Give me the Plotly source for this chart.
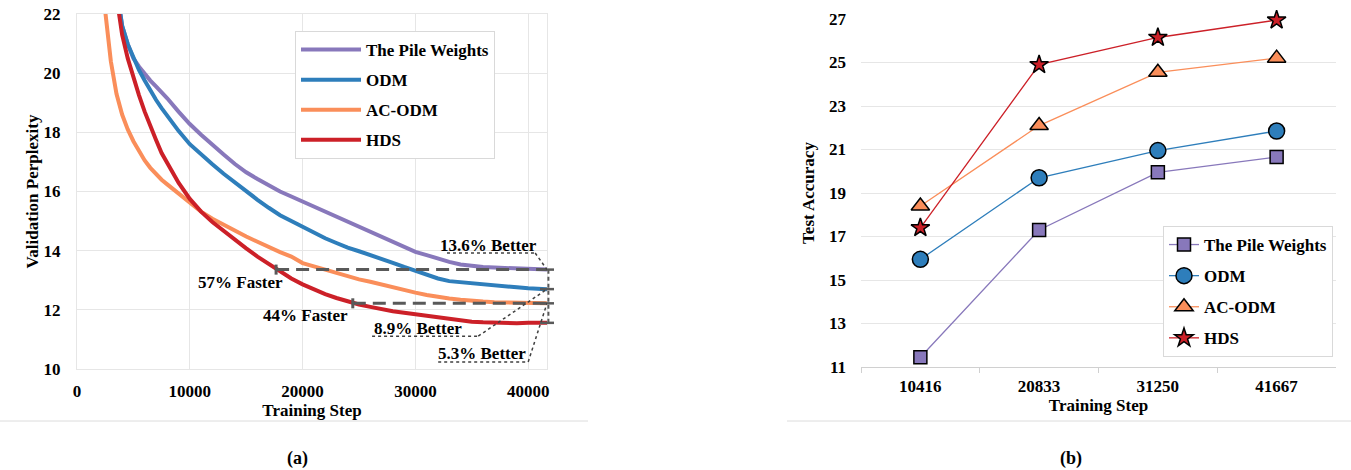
import plotly.graph_objects as go

# ---------------- data: (a) validation perplexity curves ----------------
STEPS = [2000, 2500, 3000, 3500, 4000, 4500, 5000, 5500, 6000, 6500, 7000, 7500, 8000,
         9000, 10000, 11000, 12000, 13000, 14000, 15000, 16000, 17000, 18000, 19000, 20000,
         21000, 22000, 23000, 24000, 25000, 26000, 27000, 28000, 29000, 30000, 31000, 32000,
         33000, 34000, 35000, 36000, 37000, 38000, 39000, 40000, 41000, 41667]

PILE_PPL = [None, None, None, 22.9, 21.6, 20.98, 20.5, 20.22, 19.97, 19.75, 19.55, 19.36, 19.15,
            18.7, 18.28, 17.92, 17.57, 17.25, 16.93, 16.65, 16.42, 16.2, 16.0, 15.83, 15.66,
            15.49, 15.32, 15.15, 14.98, 14.8, 14.63, 14.46, 14.29, 14.12, 13.96, 13.85, 13.72,
            13.62, 13.53, 13.48, 13.45, 13.43, 13.42, 13.4, 13.38, 13.37, 13.36]

ODM_PPL = [None, None, None, 22.9, 21.6, 20.98, 20.5, 20.1, 19.75, 19.4, 19.1, 18.82, 18.55,
           18.05, 17.6, 17.25, 16.92, 16.6, 16.3, 16.0, 15.72, 15.45, 15.2, 15.0, 14.8,
           14.6, 14.42, 14.26, 14.1, 13.98, 13.86, 13.73, 13.59, 13.45, 13.32, 13.19, 13.06,
           12.97, 12.93, 12.89, 12.86, 12.83, 12.79, 12.76, 12.73, 12.71, 12.7]

ACODM_PPL = [24.5, 22.1, 20.4, 19.3, 18.6, 18.1, 17.7, 17.35, 17.05, 16.8, 16.58, 16.4, 16.24,
             15.92, 15.6, 15.32, 15.08, 14.87, 14.67, 14.48, 14.3, 14.12, 13.95, 13.8, 13.58,
             13.47, 13.36, 13.23, 13.12, 13.03, 12.95, 12.85, 12.75, 12.66, 12.58, 12.5, 12.43,
             12.38, 12.34, 12.3, 12.28, 12.26, 12.25, 12.24, 12.23, 12.22, 12.22]

HDS_PPL = [None, None, None, 22.6, 21.3, 20.5, 19.85, 19.25, 18.7, 18.2, 17.75, 17.3, 16.95,
           16.3, 15.75, 15.32, 14.97, 14.66, 14.37, 14.08, 13.8, 13.55, 13.3, 13.06, 12.86,
           12.68, 12.53, 12.4, 12.28, 12.18, 12.1, 12.02, 11.95, 11.9, 11.85, 11.79, 11.73,
           11.68, 11.63, 11.6, 11.58, 11.56, 11.55, 11.55, 11.56, 11.57, 11.56]

# steps at which HDS reaches the final perplexity of The Pile Weights / AC-ODM
FASTER_LABELS = ["57% Faster", "44% Faster"]
FASTER_START = [17650, 24450]

BETTER_LABELS = ["13.6% Better", "8.9% Better", "5.3% Better"]

# ---------------- data: (b) test accuracy ----------------
STEPS_B = ["10416", "20833", "31250", "41667"]
PILE_ACC = [11.45, 17.3, 19.95, 20.65]
ODM_ACC = [15.95, 19.7, 20.95, 21.85]
ACODM_ACC = [18.4, 22.1, 24.55, 25.2]
HDS_ACC = [17.4, 24.9, 26.15, 26.95]

NAMES = ["The Pile Weights", "ODM", "AC-ODM", "HDS"]
COLORS = ["#8878BB", "#2E7EBB", "#FA8E5A", "#CC2028"]
SYMBOLS = ["square", "circle", "triangle-up", "star"]
SIZES = [13, 16, 16, 14]

FONT = "Liberation Serif, Times New Roman, serif"
GRID = "#e6e6e6"
ANN = "#595959"
W, H = 1351, 470


def px(x):
    """screen x pixel -> paper fraction"""
    return x / W


def py(y):
    """screen y pixel -> paper fraction"""
    return 1 - y / H


fig = go.Figure()

# ---------- (a) curves ----------
for name, vals, col in zip(NAMES, [PILE_PPL, ODM_PPL, ACODM_PPL, HDS_PPL], COLORS):
    fig.add_trace(go.Scatter(x=STEPS, y=vals, mode="lines", name=name,
                             line=dict(color=col, width=4),
                             xaxis="x", yaxis="y", legend="legend",
                             legendgroup="a_" + name, hoverinfo="skip"))

last_pile, last_odm, last_ac, last_hds = PILE_PPL[-1], ODM_PPL[-1], ACODM_PPL[-1], HDS_PPL[-1]
faster_levels = [last_pile, last_ac]
x_end = STEPS[-1]

# dashed "faster" lines
for start, lvl in zip(FASTER_START, faster_levels):
    fig.add_trace(go.Scatter(x=[start, x_end], y=[lvl, lvl], mode="lines",
                             line=dict(color=ANN, width=3, dash="13px,7px"),
                             showlegend=False, hoverinfo="skip", xaxis="x", yaxis="y"))
    fig.add_shape(type="line", xref="x", yref="y", x0=start, x1=start,
                  y0=lvl - 0.17, y1=lvl + 0.17, line=dict(color=ANN, width=3))

# vertical bracket at right edge
fig.add_shape(type="line", xref="x domain", yref="y", x0=1.003, x1=1.003,
              y0=last_hds, y1=last_pile, line=dict(color=ANN, width=2, dash="4px,3px"))
for v in [last_pile, last_odm, last_ac, last_hds]:
    fig.add_shape(type="line", xref="x domain", yref="y", x0=1 - 7 / 470, x1=1 + 7 / 470,
                  y0=v, y1=v, line=dict(color=ANN, width=2.5))

annfont = dict(family=FONT, size=17, color="black", weight="bold")

# "faster" labels
FASTER_POS = [(14460, 12.91), (20220, 11.82)]
for txt, (ax_, ay_) in zip(FASTER_LABELS, FASTER_POS):
    fig.add_annotation(x=ax_, y=ay_, xref="x", yref="y", text=txt, showarrow=False,
                       xanchor="center", yanchor="middle", font=annfont)

# "better" labels with dotted leader lines
BETTER_POS = [(36450, 14.16), (30240, 11.38), (35920, 10.51)]
BETTER_LINE = [(32800, 40620, 13.92), (26160, 35570, 11.11), (32020, 40000, 10.24)]
for txt, (ax_, ay_), (ux0, ux1, uy), target in zip(BETTER_LABELS, BETTER_POS, BETTER_LINE,
                                                    [last_pile, last_odm, last_ac]):
    fig.add_annotation(x=ax_, y=ay_, xref="x", yref="y", text=txt, showarrow=False,
                       xanchor="center", yanchor="middle", font=annfont)
    fig.add_shape(type="line", xref="x", yref="y", x0=ux0, x1=ux1, y0=uy, y1=uy,
                  line=dict(color="#404040", width=1.5, dash="dot"))
    fig.add_shape(type="line", xref="x", yref="y", x0=ux1, x1=x_end, y0=uy, y1=target,
                  line=dict(color="#404040", width=1.5, dash="dot"))

# ---------- (b) accuracy ----------
for name, vals, col, sym, sz in zip(NAMES, [PILE_ACC, ODM_ACC, ACODM_ACC, HDS_ACC],
                                    COLORS, SYMBOLS, SIZES):
    fig.add_trace(go.Scatter(x=STEPS_B, y=vals, mode="lines+markers", name=name,
                             line=dict(color=col, width=1.3),
                             marker=dict(symbol=sym, size=sz, color=col,
                                         line=dict(color="black", width=1.5)),
                             xaxis="x2", yaxis="y2", legend="legend2",
                             legendgroup="b_" + name, cliponaxis=False, hoverinfo="skip"))

# captions and separator lines
capfont = dict(family=FONT, size=18, color="black", weight="bold")
fig.add_annotation(x=px(297), y=py(458), xref="paper", yref="paper", text="(a)",
                   showarrow=False, xanchor="center", yanchor="middle", font=capfont)
fig.add_annotation(x=px(1071), y=py(458), xref="paper", yref="paper", text="(b)",
                   showarrow=False, xanchor="center", yanchor="middle", font=capfont)
fig.add_shape(type="line", xref="paper", yref="paper", x0=px(0), x1=px(588),
              y0=py(421), y1=py(421), line=dict(color="#dcdcdc", width=1))
fig.add_shape(type="line", xref="paper", yref="paper", x0=px(787), x1=1.0,
              y0=py(421), y1=py(421), line=dict(color="#dcdcdc", width=1))

tickfont = dict(family=FONT, size=17, color="black", weight="bold")
titlefont = dict(family=FONT, size=17, color="black", weight="bold")
legfont = dict(family=FONT, size=17, color="black", weight="bold")

fig.update_layout(
    width=W, height=H,
    margin=dict(l=0, r=0, t=0, b=0, autoexpand=False),
    paper_bgcolor="white", plot_bgcolor="white",
    font=dict(family=FONT, size=17, color="black", weight="bold"),
    xaxis=dict(domain=[px(77), px(547)], anchor="y", range=[0, 41667],
               tickvals=[0, 10000, 20000, 30000, 40000], tickformat="d", automargin=False,
               showgrid=True, gridcolor=GRID, gridwidth=1, zeroline=False,
               showline=True, linecolor=GRID, linewidth=1, mirror=True,
               ticks="", tickfont=tickfont, ticklabelstandoff=7, ticklabeloverflow="allow",
               title=dict(text="Training Step", font=titlefont, standoff=0)),
    yaxis=dict(domain=[py(369), py(14)], anchor="x", range=[10, 22],
               tickvals=[10, 12, 14, 16, 18, 20, 22], tickformat="d", automargin=False,
               showgrid=True, gridcolor=GRID, gridwidth=1, zeroline=False,
               showline=True, linecolor=GRID, linewidth=1, mirror=True,
               ticks="", tickfont=tickfont, ticklabelstandoff=12, ticklabeloverflow="allow",
               title=dict(text="Validation Perplexity", font=titlefont, standoff=0)),
    xaxis2=dict(domain=[px(861), px(1336)], anchor="y2", type="category", range=[-0.5, 3.5],
                automargin=False,
                showgrid=False, zeroline=False, showline=True, linecolor="#d0d0d0", linewidth=1,
                ticks="outside", tickson="boundaries", ticklen=5, tickcolor="#d0d0d0",
                tickfont=tickfont, ticklabelstandoff=4, ticklabeloverflow="allow",
                title=dict(text="Training Step", font=titlefont, standoff=0)),
    yaxis2=dict(domain=[py(367), py(19)], anchor="x2", range=[11, 27],
                tickvals=[11, 13, 15, 17, 19, 21, 23, 25, 27], tickformat="d", automargin=False,
                showgrid=True, gridcolor=GRID, gridwidth=1, zeroline=False, showline=False,
                ticks="", tickfont=tickfont, ticklabelstandoff=14, ticklabeloverflow="allow",
                title=dict(text="Test Accuracy", font=titlefont, standoff=10)),
    legend=dict(x=px(295), y=py(31), xanchor="left", yanchor="top",
                bgcolor="white", bordercolor="#d9d9d9", borderwidth=1,
                font=legfont, traceorder="grouped", tracegroupgap=5, itemwidth=60),
    legend2=dict(x=px(1163), y=py(226), xanchor="left", yanchor="top",
                 bgcolor="white", bordercolor="#d9d9d9", borderwidth=1,
                 font=legfont, traceorder="grouped", tracegroupgap=6, itemwidth=30),
    showlegend=True,
)

# remove the browser's default 8px body margin so the figure fills the window exactly
fig.write_html("out.html", config={"displayModeBar": False},
               post_script="document.body.style.margin='0px';")
